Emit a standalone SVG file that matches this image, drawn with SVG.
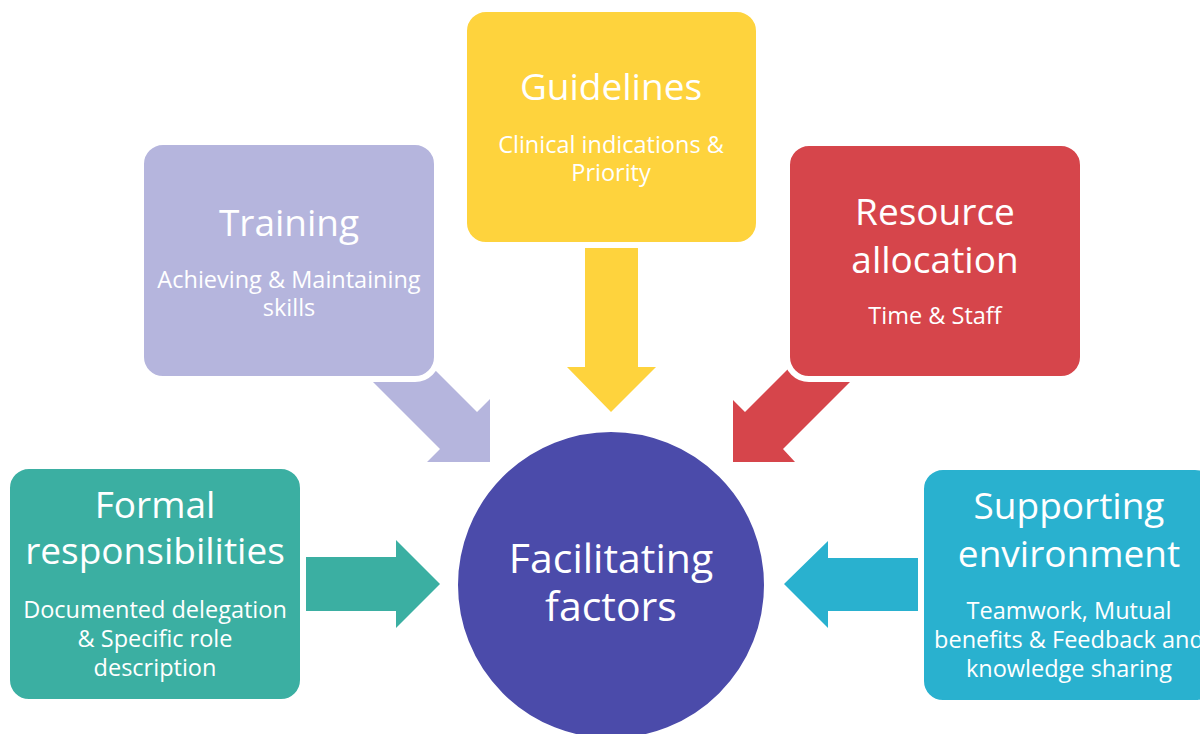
<svg xmlns="http://www.w3.org/2000/svg" width="1200" height="734" viewBox="0 0 1200 734">
  <style>
    .box { stroke: #ffffff; stroke-width: 6; }
    .title { font-family: "Open Sans", "Noto Sans", sans-serif; font-size: 37px; fill: #ffffff; text-anchor: middle; }
    .sub { font-family: "Open Sans", "Noto Sans", sans-serif; font-size: 23.5px; fill: #ffffff; text-anchor: middle; }
    .hub { font-family: "Open Sans", "Noto Sans", sans-serif; font-size: 41px; fill: #ffffff; text-anchor: middle; }
  </style>
  <rect width="1200" height="734" fill="#ffffff"/>

  <!-- block arrows pointing into the hub -->
  <g id="connectors">
    <polygon points="400,335 477,412 490,399 490,462 427,462 440,449 363,372" fill="#B5B5DD"/>
    <polygon points="585,247 638,247 638,367 656,367 611,412 567,367 585,367" fill="#FED33D"/>
    <polygon points="820,337 857,375 783,449 795,462 733,462 733,400 745,412" fill="#D6454B"/>
    <polygon points="305,557 396,557 396,540 440,584 396,628 396,611 305,611" fill="#3BAFA2"/>
    <polygon points="918,558 828,558 828,541 784,584 828,628 828,611 918,611" fill="#29B1CF"/>
  </g>

  <g id="training">
    <rect class="box" x="141" y="142" width="296" height="237" rx="22" fill="#B5B5DD"/>
    <text class="title" x="289" y="236">Training</text>
    <text class="sub" x="289" y="288">Achieving &amp; Maintaining</text>
    <text class="sub" x="289" y="316">skills</text>
  </g>

  <g id="guidelines">
    <rect class="box" x="464" y="9" width="295" height="236" rx="22" fill="#FED33D"/>
    <text class="title" x="611" y="100">Guidelines</text>
    <text class="sub" x="611" y="153">Clinical indications &amp;</text>
    <text class="sub" x="611" y="181">Priority</text>
  </g>

  <g id="resource-allocation">
    <rect class="box" x="787" y="143" width="296" height="236" rx="22" fill="#D6454B"/>
    <text class="title" x="935" y="225">Resource</text>
    <text class="title" x="935" y="273">allocation</text>
    <text class="sub" x="935" y="324">Time &amp; Staff</text>
  </g>

  <g id="formal-responsibilities">
    <rect class="box" x="7" y="466" width="296" height="236" rx="22" fill="#3BAFA2"/>
    <text class="title" x="155" y="518">Formal</text>
    <text class="title" x="155" y="564">responsibilities</text>
    <text class="sub" x="155" y="618">Documented delegation</text>
    <text class="sub" x="155" y="647">&amp; Specific role</text>
    <text class="sub" x="155" y="676">description</text>
  </g>

  <g id="supporting-environment">
    <rect class="box" x="921" y="467" width="296" height="236" rx="22" fill="#29B1CF"/>
    <text class="title" x="1069" y="519">Supporting</text>
    <text class="title" x="1069" y="567">environment</text>
    <text class="sub" x="1069" y="619">Teamwork, Mutual</text>
    <text class="sub" x="1069" y="648">benefits &amp; Feedback and</text>
    <text class="sub" x="1069" y="677">knowledge sharing</text>
  </g>

  <g id="facilitating-factors">
    <circle class="box" cx="611" cy="585" r="156" fill="#4B4BAA"/>
    <text class="hub" x="611" y="573">Facilitating</text>
    <text class="hub" x="611" y="621">factors</text>
  </g>
</svg>
